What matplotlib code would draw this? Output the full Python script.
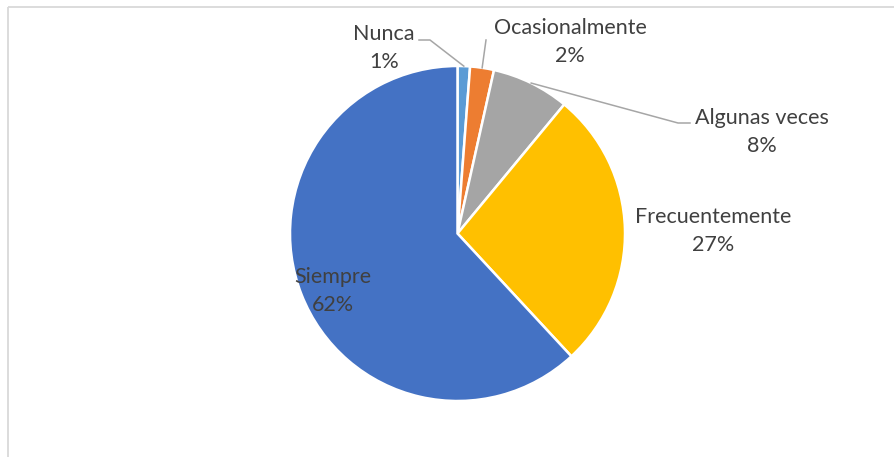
import numpy as np
import matplotlib.pyplot as plt
from matplotlib.patches import Rectangle

categorias = ["Nunca", "Ocasionalmente", "Algunas veces", "Frecuentemente", "Siempre"]
valores = [1.2, 2.3, 7.5, 27.1, 61.9]
etiquetas_pct = ["1%", "2%", "8%", "27%", "62%"]
colores = ["#5B9BD5", "#ED7D31", "#A5A5A5", "#FFC000", "#4472C4"]

# posiciones de etiquetas (pixeles)
pos_etq = [(384, 48), (570, 42), (762, 132), (713, 231), (333, 291)]
# quiebre de lineas guia
guias = {0: [(430, 40), (419, 40)], 1: [(486, 40)], 2: [(678, 123), (690, 123)]}

W, H = 894, 457
fig = plt.figure(figsize=(W / 100, H / 100), dpi=100)
ax = fig.add_axes([0, 0, 1, 1])

cx, cy, r = 457.5, 233.5, 167.5
# eje y invertido: arriba visual = -90 y sentido horario visual = antihorario en datos
wedges, _ = ax.pie(valores, colors=colores, startangle=-90, counterclock=True,
                   center=(cx, cy), radius=r, frame=True,
                   wedgeprops=dict(edgecolor="white", linewidth=1.8))
ax.set_xlim(0, W)
ax.set_ylim(H, 0)
ax.set_aspect("equal")
ax.axis("off")

ax.add_patch(Rectangle((7.5, 6.5), 1000, 1000, fill=False, edgecolor="#D9D9D9", lw=1.3))

for i, w in enumerate(wedges):
    x, y = pos_etq[i]
    ax.text(x, y, categorias[i] + "\n" + etiquetas_pct[i], ha="center", va="center",
            fontsize=15.5, color="#404040", family="Lato", linespacing=1.55)
    if i in guias:
        ang = np.deg2rad((w.theta1 + w.theta2) / 2)
        px = cx + r * np.cos(ang)
        py = cy + r * np.sin(ang)
        pts = [(px, py)] + guias[i]
        ax.plot([p[0] for p in pts], [p[1] for p in pts], color="#A6A6A6", lw=1.1)

fig.savefig("out.png", dpi=100, facecolor="white")
